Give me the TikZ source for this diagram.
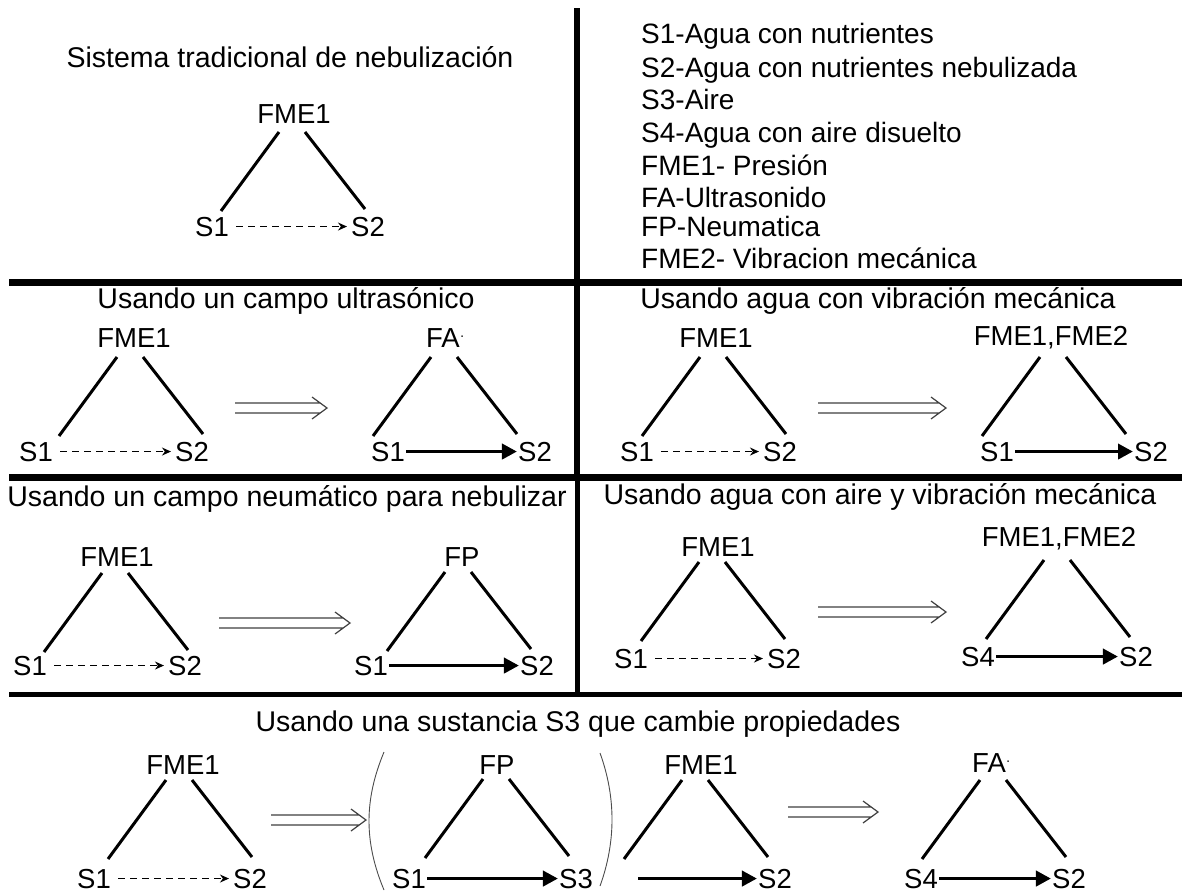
\documentclass[tikz,border=0pt]{standalone}
\usepackage{fontspec}
\setmainfont{Liberation Sans}
\usetikzlibrary{arrows.meta}
\newcommand\triLegs[3]{%
  \coordinate (#1lt) at ({#2-13},{#3});
  \coordinate (#1lb) at ({#2-71},{#3+79});
  \coordinate (#1rt) at ({#2+13},{#3});
  \coordinate (#1rb) at ({#2+73},{#3+77});
  \draw[legline] (#1lt) -- (#1lb) (#1rt) -- (#1rb);}
\newcommand\dblArrow[4]{%
  \coordinate (#1s) at (#2,#4);
  \coordinate (#1e) at (#3,#4);
  \draw[dblline] ([yshift=5pt]#1s) -- ([xshift=-7pt,yshift=5pt]#1e)
                 ([yshift=-5pt]#1s) -- ([xshift=-7pt,yshift=-5pt]#1e)
                 ([xshift=-15pt,yshift=11pt]#1e) -- (#1e) -- ([xshift=-15pt,yshift=-11pt]#1e);}
\newcommand\faDot{{\fontsize{14}{14}\selectfont\raisebox{7pt}{·}}}
\begin{document}
\begin{tikzpicture}[x=1pt,y=-1pt,
  lbl/.style={inner sep=0pt, anchor=base, font=\fontsize{27.5}{30}\selectfont},
  ttl/.style={inner sep=0pt, anchor=base, font=\fontsize{28.5}{32}\selectfont},
  key/.style={inner sep=0pt, anchor=base west, font=\fontsize{28}{32}\selectfont},
  legline/.style={line width=3pt},
  gridline/.style={line width=6.5pt},
  gridthin/.style={line width=5pt},
  dasharr/.style={line width=1.6pt, dash pattern=on 7pt off 5pt, -{Stealth[length=9pt,width=8pt]}, shorten <=7pt, shorten >=4pt},
  solidarr/.style={line width=3.8pt, -{Triangle[length=15pt,width=15pt]}, shorten <=1pt, shorten >=1pt},
  dblline/.style={line width=1.2pt, black!75, line join=miter},
  parenline/.style={line width=0.9pt, black!70}]
\useasboundingbox (0,0) rectangle (1182,892);
\fill[white] (0,0) rectangle (1182,892);
% grid
\draw[gridline] (577,8) -- (577,479);
\draw[gridthin] (577,479) -- (577,694);
\draw[gridline] (9,282.5) -- (1182,282.5);
\draw[gridline] (9,477.5) -- (1182,477.5);
\draw[gridthin] (9,694) -- (1182,694);
% ---------- row 1
\node[ttl] (t1) at (290,67) {Sistema tradicional de nebulización};
\triLegs{A}{292}{132}
\node[lbl] (A-top) at (294,123) {FME1};
\node[lbl] (A-l) at (212,236) {S1};
\node[lbl] (A-r) at (368,236) {S2};
\draw[dasharr] (A-l.east) -- (A-r.west);
\node[key] (k1) at (641,43) {S1-Agua con nutrientes};
\node[key] (k2) at (641,77) {S2-Agua con nutrientes nebulizada};
\node[key] (k3) at (641,109) {S3-Aire};
\node[key] (k4) at (641,142) {S4-Agua con aire disuelto};
\node[key] (k5) at (641,175) {FME1- Presión};
\node[key] (k6) at (641,207) {FA-Ultrasonido};
\node[key] (k7) at (641,236) {FP-Neumatica};
\node[key] (k8) at (641,268) {FME2- Vibracion mecánica};
% ---------- row 2
\node[ttl] (t2l) at (286,308) {Usando un campo ultrasónico};
\node[ttl] (t2r) at (878,308) {Usando agua con vibración mecánica};
\triLegs{B}{130}{357}
\node[lbl] (B-top) at (134,347) {FME1};
\node[lbl] (B-l) at (36,461) {S1};
\node[lbl] (B-r) at (192,461) {S2};
\draw[dasharr] (B-l.east) -- (B-r.west);
\dblArrow{DA}{235}{327}{408}
\triLegs{C}{444}{357}
\node[lbl, anchor=base west] (C-top) at (426,347) {FA\faDot};
\node[lbl] (C-l) at (388,461) {S1};
\node[lbl] (C-r) at (535,461) {S2};
\draw[solidarr] (C-l.east) -- (C-r.west);
\triLegs{D}{713}{357}
\node[lbl] (D-top) at (716,347) {FME1};
\node[lbl] (D-l) at (637,461) {S1};
\node[lbl] (D-r) at (780,461) {S2};
\draw[dasharr] (D-l.east) -- (D-r.west);
\dblArrow{DB}{818}{946}{408}
\triLegs{E}{1053}{357}
\node[lbl] (E-top) at (1051,345) {FME1,FME2};
\node[lbl] (E-l) at (997,461) {S1};
\node[lbl] (E-r) at (1151,461) {S2};
\draw[solidarr] (E-l.east) -- (E-r.west);
% ---------- row 3
\node[ttl] (t3l) at (287,506) {Usando un campo neumático para nebulizar};
\node[ttl] (t3r) at (880,504) {Usando agua con aire y vibración mecánica};
\triLegs{F}{115}{573}
\node[lbl] (F-top) at (117,566) {FME1};
\node[lbl] (F-l) at (30,675) {S1};
\node[lbl] (F-r) at (185,675) {S2};
\draw[dasharr] (F-l.east) -- (F-r.west);
\dblArrow{DC}{219}{350}{623}
\triLegs{G}{458}{572}
\node[lbl] (G-top) at (462,566) {FP};
\node[lbl] (G-l) at (371,675) {S1};
\node[lbl] (G-r) at (537,675) {S2};
\draw[solidarr] (G-l.east) -- (G-r.west);
\triLegs{H}{712}{562}
\node[lbl] (H-top) at (718,556) {FME1};
\node[lbl] (H-l) at (631,668) {S1};
\node[lbl] (H-r) at (784,668) {S2};
\draw[dasharr] (H-l.east) -- (H-r.west);
\dblArrow{DD}{818}{946}{612}
\triLegs{I}{1057}{560}
\node[lbl] (I-top) at (1059,546) {FME1,FME2};
\node[lbl] (I-l) at (978,666) {S4};
\node[lbl] (I-r) at (1136,666) {S2};
\draw[solidarr] (I-l.east) -- (I-r.west);
% ---------- row 4
\node[ttl] (t4) at (578,731) {Usando una sustancia S3 que cambie propiedades};
\triLegs{J}{179}{780}
\node[lbl] (J-top) at (183,774) {FME1};
\node[lbl] (J-l) at (94,888) {S1};
\node[lbl] (J-r) at (250,888) {S2};
\draw[dasharr] (J-l.east) -- (J-r.west);
\dblArrow{DE}{271}{366}{820}
\coordinate (P1a) at (384,752);
\coordinate (P1b) at (384,890);
\draw[parenline] (P1a) .. controls (364,800) and (364,842) .. (P1b);
\triLegs{K}{496}{779}
\node[lbl] (K-top) at (497,774) {FP};
\node[lbl] (K-l) at (409,888) {S1};
\node[lbl] (K-r) at (576,888) {S3};
\draw[solidarr] (K-l.east) -- (K-r.west);
\coordinate (P2a) at (600,753);
\coordinate (P2b) at (600,886);
\draw[parenline] (P2a) .. controls (616,797) and (616,842) .. (P2b);
\triLegs{L}{695}{780}
\node[lbl] (L-top) at (701,774) {FME1};
\node[lbl] (L-r) at (775,888) {S2};
\coordinate (L-l) at (637,878);
\draw[solidarr] (L-l |- L-r.west) -- (L-r.west);
\dblArrow{DF}{788}{878}{812}
\triLegs{M}{993}{780}
\node[lbl, anchor=base west] (M-top) at (972,772) {FA\faDot};
\node[lbl] (M-l) at (921,888) {S4};
\node[lbl] (M-r) at (1069,888) {S2};
\draw[solidarr] (M-l.east) -- (M-r.west);
\end{tikzpicture}
\end{document}
